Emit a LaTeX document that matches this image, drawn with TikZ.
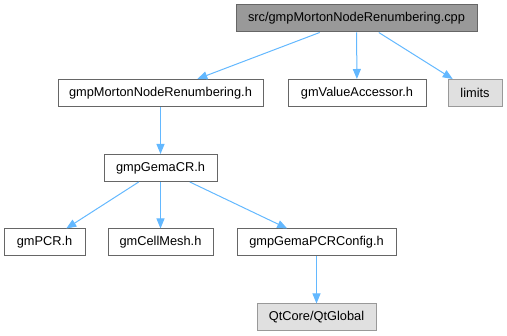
\documentclass[tikz,border=0pt]{standalone}
\usepackage{fontspec}
\setmainfont{Liberation Sans}
\usetikzlibrary{arrows.meta}

\definecolor{edgeblue}{HTML}{63B8FF}
\definecolor{boxline}{HTML}{666666}
\definecolor{curfill}{HTML}{999999}
\definecolor{sysfill}{HTML}{E0E0E0}

\begin{document}
\begin{tikzpicture}[x=1pt, y=-1pt,
  every node/.style={font=\fontsize{12.8}{14}\selectfont},
  file/.style={draw=boxline, fill=white, line width=1pt, rectangle, minimum height=27pt, inner sep=0pt},
  cur/.style={file, fill=curfill},
  sys/.style={file, draw=curfill, fill=sysfill},
  inc/.style={-{Triangle[length=10pt, width=8pt]}, edgeblue, line width=1pt}]
\useasboundingbox (0,0) rectangle (507,336);
\node[cur, minimum width=241pt] (cpp) at (356.5,18.5) {src/gmpMortonNodeRenumbering.cpp};
\node[file, minimum width=205pt] (mortonh) at (160.5,93) {gmpMortonNodeRenumbering.h};
\node[file, minimum width=138pt] (valacc) at (357,93) {gmValueAccessor.h};
\node[sys, minimum width=54pt] (limits) at (475,93) {limits};
\node[file, minimum width=113pt] (gemacr) at (160.5,168) {gmpGemaCR.h};
\node[file, minimum width=81pt] (pcr) at (44.5,242.5) {gmPCR.h};
\node[file, minimum width=105pt] (cellmesh) at (160.5,242.5) {gmCellMesh.h};
\node[file, minimum width=159pt] (config) at (316.5,242.5) {gmpGemaPCRConfig.h};
\node[sys, minimum width=119pt] (qtglobal) at (316.5,317.5) {QtCore/QtGlobal};
\draw[inc] (cpp) -- (mortonh);
\draw[inc] (cpp) -- (valacc);
\draw[inc] (cpp) -- (limits);
\draw[inc] (mortonh) -- (gemacr);
\draw[inc] (gemacr) -- (pcr);
\draw[inc] (gemacr) -- (cellmesh);
\draw[inc] (gemacr) -- (config);
\draw[inc] (config) -- (qtglobal);
\end{tikzpicture}
\end{document}
